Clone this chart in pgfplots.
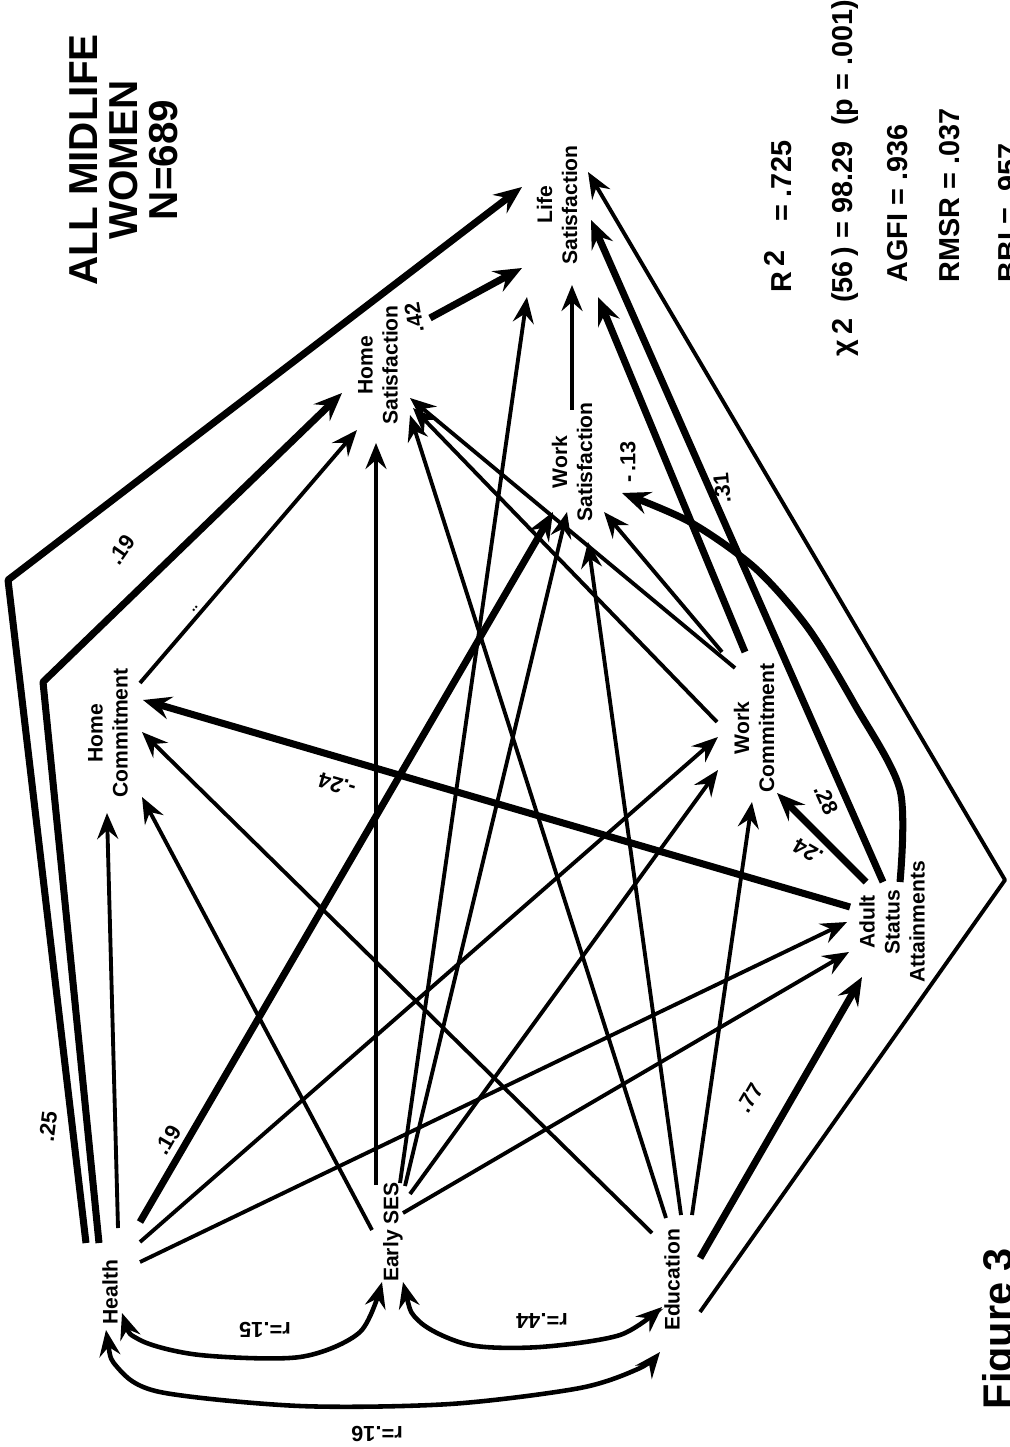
\documentclass[border=0pt]{standalone}
\usepackage{fontspec}
\setmainfont{Liberation Sans}
\usepackage{pgfplots}
\pgfplotsset{compat=1.18}
\usetikzlibrary{arrows.meta}
\tikzset{
  thn/.style={line width=1.1pt, line join=round, -{Stealth[length=2.6mm,width=2.1mm,inset=0.9mm]}},
  thk/.style={line width=2pt, line join=round, -{Stealth[length=2.8mm,width=2.3mm,inset=1mm]}},
  dbl/.style={line width=1.3pt, {Stealth[length=2.6mm,width=2.1mm,inset=0.9mm]}-{Stealth[length=2.6mm,width=2.1mm,inset=0.9mm]}},
  lab/.style={rotate=90, align=center, font=\fontsize{6}{7.1}\selectfont\bfseries, inner sep=0pt},
  coef/.style={font=\fontsize{6.2}{7}\selectfont\bfseries, inner sep=0pt},
  stat/.style={rotate=90, anchor=west, font=\fontsize{8.2}{9}\selectfont\bfseries, inner sep=0pt},
}
\begin{document}
\begin{tikzpicture}
\useasboundingbox (0,0) rectangle (100.9mm,144.7mm);
\clip (0,0) rectangle (100.9mm,144.7mm);
\begin{axis}[at={(0,0)}, anchor=south west, scale only axis,
  width=100.9mm, height=144.7mm, xmin=0, xmax=1009, ymin=0, ymax=1447,
  y dir=reverse, hide axis, clip=false]
% ---- paths from Health
\addplot[thk] coordinates {(86,1243) (8,580) (522,187)};
\addplot[thk] coordinates {(99,1243) (43,682) (342,393)};
\addplot[thn] coordinates {(118,1228) (107,813)};
\addplot[thk] coordinates {(140,1222) (553,512)};
\addplot[thn] coordinates {(140,1242) (718,737)};
\addplot[thn] coordinates {(140,1262) (847,922)};
% ---- paths from Early SES
\addplot[thn] coordinates {(372,1230) (142,797)};
\addplot[thn] coordinates {(376,1185) (376,443)};
\addplot[thn] coordinates {(400,1183) (527,297)};
\addplot[thn] coordinates {(405,1186) (567,512)};
\addplot[thn] coordinates {(410,1194) (718,770)};
\addplot[thn] coordinates {(403,1213) (849,952)};
% ---- paths from Education
\addplot[thn] coordinates {(652,1233) (142,732)};
\addplot[thn] coordinates {(666,1218) (410,415)};
\addplot[thn] coordinates {(681,1215) (588,542)};
\addplot[thn] coordinates {(692,1215) (752,802)};
\addplot[thk] coordinates {(700,1258) (862,977)};
\addplot[thn] coordinates {(700,1312) (1005,880) (588,172)};
% ---- paths from Adult Status Attainments
\addplot[thk] coordinates {(850,907) (143,700)};
\addplot[thk] coordinates {(866,882) (777,793)};
\addplot[thk, smooth] coordinates {(900,882) (900,790) (855,705) (808,628) (755,568) (690,522) (622,493)};
\addplot[thk] coordinates {(883,882) (591,220)};
% ---- paths from Work Commitment
\addplot[thk] coordinates {(745,652) (598,297)};
\addplot[thn] coordinates {(722,652) (604,512)};
\addplot[thn] coordinates {(735,668) (410,398)};
\addplot[thn] coordinates {(717,722) (413,408)};
% ---- other paths
\addplot[thn] coordinates {(140,683) (357,430)};
\addplot[thk] coordinates {(430,318) (522,268)};
\addplot[thn] coordinates {(572,410) (572,285)};
% ---- correlations
\addplot[dbl, smooth] coordinates {(122,1313) (140,1340) (200,1355) (300,1357) (360,1332) (382,1282)};
\addplot[dbl, smooth] coordinates {(403,1282) (420,1322) (470,1345) (540,1347) (620,1335) (662,1307)};
\addplot[dbl, smooth] coordinates {(106,1330) (118,1368) (160,1392) (300,1406) (450,1404) (580,1388) (640,1368) (660,1352)};
% ---- variable labels
\node[lab] at (axis cs:110,1292) {Health};
\node[lab] at (axis cs:393,1232) {Early SES};
\node[lab] at (axis cs:672,1280) {Education};
\node[lab] at (axis cs:892,922) {Adult\\Status\\Attainments};
\node[lab] at (axis cs:108,733) {Home\\Commitment};
\node[lab] at (axis cs:754,728) {Work\\Commitment};
\node[lab] at (axis cs:378,365) {Home\\Satisfaction};
\node[lab] at (axis cs:572,462) {Work\\Satisfaction};
\node[lab] at (axis cs:557,205) {Life\\Satisfaction};
% ---- coefficients
\node[coef, rotate=83] at (axis cs:48,1127) {.25};
\node[coef, rotate=60] at (axis cs:168,1140) {.19};
\node[coef, rotate=55] at (axis cs:122,550) {.19};
\node[coef, rotate=50, font=\fontsize{4}{4}\selectfont\bfseries] at (axis cs:195,609) {..};
\node[coef, rotate=100] at (axis cs:414,318) {.42};
\node[coef, rotate=90] at (axis cs:628,462) {-\,.13};
\node[coef, rotate=95] at (axis cs:722,488) {.31};
\node[coef, rotate=164] at (axis cs:337,785) {-.24};
\node[coef, rotate=-66] at (axis cs:826,800) {.28};
\node[coef, rotate=150] at (axis cs:808,852) {.24};
\node[coef, rotate=60] at (axis cs:750,1098) {.77};
\node[coef, rotate=180] at (axis cs:265,1330) {r=.15};
\node[coef, rotate=180] at (axis cs:542,1321) {r=.44};
\node[coef, rotate=180] at (axis cs:377,1434) {r=.16};
% ---- title and statistics
\node[rotate=90, align=center, font=\fontsize{11.5}{11.3}\selectfont\bfseries, inner sep=0pt] at (axis cs:124,160) {ALL MIDLIFE\\WOMEN\\N=689};
\node[stat] at (axis cs:778,293) {R\,\raisebox{0.5ex}{2}\quad= .725};
\node[stat] at (axis cs:845,357) {χ\,2\ \ (56\,) = 98.29\ \ (p = .001)};
\node[stat] at (axis cs:898,283) {AGFI = .936};
\node[stat] at (axis cs:950,283) {RMSR = .037};
\node[stat, anchor=base west] at (axis cs:1018,283) {BBI = .957};
\node[rotate=90, anchor=base west, font=\fontsize{11.8}{12}\selectfont\bfseries, inner sep=0pt] at (axis cs:1012,1410) {Figure 3};
\end{axis}
\end{tikzpicture}
\end{document}
